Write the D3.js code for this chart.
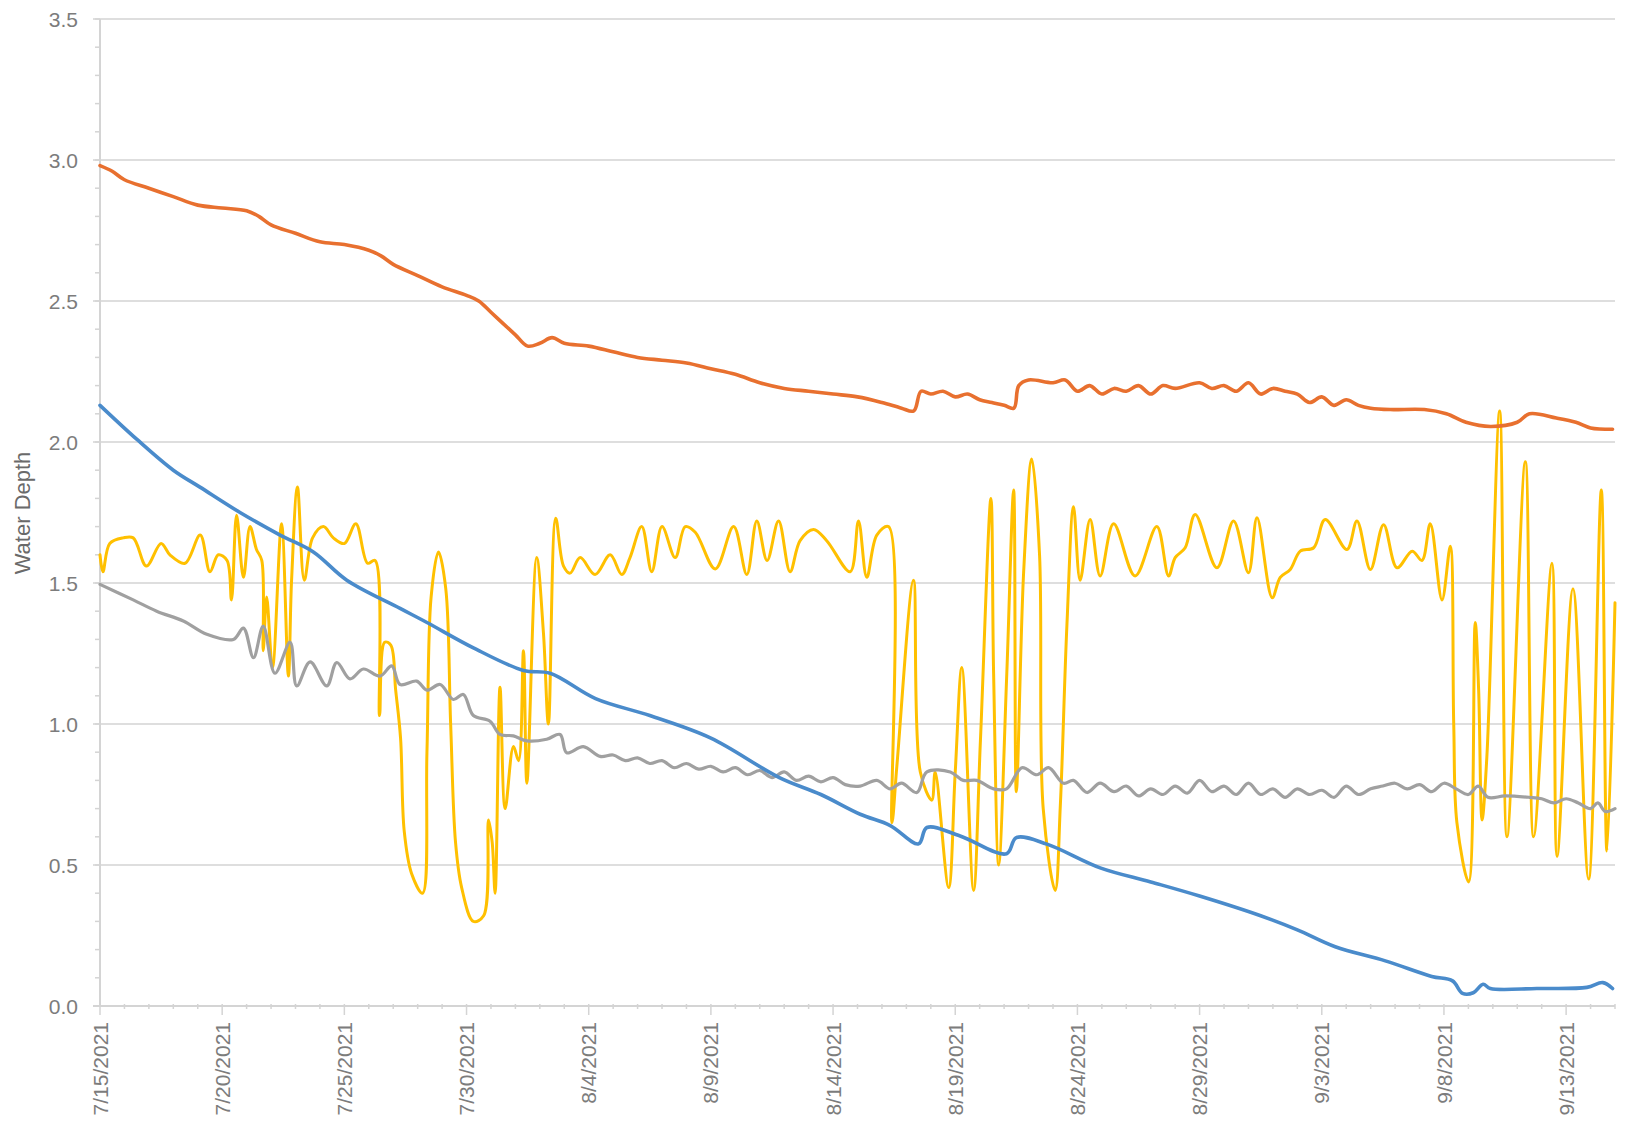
<!DOCTYPE html>
<html>
<head>
<meta charset="utf-8">
<title>Water Depth</title>
<script src="https://cdn.jsdelivr.net/npm/d3@7"></script>
<style>
    html, body { margin: 0; padding: 0; background: #fff; }
    text { font-family: "Liberation Sans", Arial, sans-serif; fill: #7c7c7c; }
</style>
</head>
<body>
<svg id="chart"></svg>
<script>
// start date, and series as [day offset from start, water depth]
var startDate = Date.UTC(2021, 6, 15);
var dayCount = 62;
var yTicks = [0, 0.5, 1.0, 1.5, 2.0, 2.5, 3.0, 3.5];
var xTickDays = [0, 5, 10, 15, 20, 25, 30, 35, 40, 45, 50, 55, 60];

var orangeSeries = [[0,2.98],[0.5,2.96],[1,2.93],[2,2.90],[3,2.87],[4,2.84],[5,2.83],[6,2.82],[6.5,2.80],
    [7,2.77],[8,2.74],[9,2.71],[10,2.70],[11,2.68],[11.5,2.66],[12,2.63],[13,2.59],[14,2.55],[15,2.52],
    [15.5,2.50],[16,2.46],[16.5,2.42],[17,2.38],[17.5,2.34],[18,2.35],[18.5,2.37],[19,2.35],[20,2.34],
    [21,2.32],[22,2.30],[23,2.29],[24,2.28],[25,2.26],[26,2.24],[27,2.21],[28,2.19],[29,2.18],[30,2.17],
    [31,2.16],[32,2.14],[32.8,2.12],[33.3,2.11],[33.6,2.18],[34,2.17],[34.5,2.18],[35,2.16],[35.5,2.17],
    [36,2.15],[36.5,2.14],[37,2.13],[37.4,2.12],[37.6,2.20],[38,2.22],[39,2.21],[39.5,2.22],[40,2.18],
    [40.5,2.20],[41,2.17],[41.5,2.19],[42,2.18],[42.5,2.20],[43,2.17],[43.5,2.20],[44,2.19],[45,2.21],
    [45.5,2.19],[46,2.20],[46.5,2.18],[47,2.21],[47.5,2.17],[48,2.19],[48.5,2.18],[49,2.17],[49.5,2.14],
    [50,2.16],[50.5,2.13],[51,2.15],[51.5,2.13],[52,2.12],[52.8,2.115],[54.2,2.115],[55.1,2.10],
    [55.9,2.07],[56.9,2.055],[58,2.07],[58.5,2.10],[59.6,2.085],[60.4,2.07],[61,2.05],[61.9,2.045]];

var blueSeries = [[0,2.13],[1.5,2.01],[3,1.90],[4.09,1.84],[5.73,1.75],[7.37,1.67],[8.73,1.61],[10.1,1.51],
    [12.28,1.41],[13.38,1.36],[15.28,1.27],[17.33,1.19],[18.42,1.18],[20.28,1.09],[22.5,1.03],[25,0.95],
    [27.8,0.81],[29.5,0.75],[31.11,0.68],[32.34,0.64],[33.5,0.575],[33.84,0.633],[35.2,0.603],[37.1,0.54],
    [37.5,0.597],[38.75,0.574],[40.93,0.49],[43,0.44],[45,0.39],[47.5,0.32],[49,0.27],[50.55,0.21],
    [52.6,0.16],[54.5,0.105],[55.35,0.089],[55.76,0.045],[56.2,0.047],[56.6,0.077],[56.9,0.062],
    [58.8,0.062],[60.85,0.066],[61.5,0.083],[61.9,0.062]];

var graySeries = [[0,1.495],[1.36,1.44],[2.32,1.40],[3.41,1.365],[4.37,1.318],[5.46,1.30],[5.87,1.34],
    [6.28,1.235],[6.68,1.347],[7.16,1.18],[7.78,1.29],[8.05,1.135],[8.6,1.22],[9.28,1.135],[9.69,1.218],
    [10.23,1.16],[10.78,1.195],[11.46,1.17],[11.94,1.206],[12.28,1.14],[12.96,1.152],[13.38,1.12],
    [13.92,1.14],[14.46,1.087],[14.87,1.105],[15.28,1.03],[15.96,1.01],[16.37,0.963],[16.92,0.958],
    [17.47,0.94],[18.28,0.946],[18.83,0.963],[19.1,0.898],[19.78,0.92],[20.47,0.885],[21,0.89],[21.5,0.87],
    [22,0.88],[22.5,0.86],[23,0.87],[23.5,0.845],[24,0.86],[24.5,0.84],[25,0.85],[25.5,0.83],[26,0.845],
    [26.5,0.82],[27,0.835],[27.5,0.81],[28,0.83],[28.5,0.80],[29,0.815],[29.5,0.795],[30,0.81],[30.5,0.785],
    [31.11,0.78],[31.79,0.80],[32.34,0.77],[32.8,0.79],[33.43,0.757],[33.84,0.83],[34.8,0.83],[35.33,0.80],
    [35.88,0.80],[36.57,0.77],[37.1,0.77],[37.73,0.845],[38.34,0.82],[38.82,0.845],[39.43,0.79],[39.84,0.80],
    [40.39,0.757],[40.93,0.79],[41.5,0.76],[42,0.78],[42.5,0.745],[43,0.77],[43.5,0.75],[44,0.78],
    [44.5,0.755],[45,0.80],[45.5,0.76],[46,0.78],[46.5,0.75],[47,0.79],[47.5,0.75],[48,0.77],[48.5,0.74],
    [49,0.77],[49.5,0.75],[50,0.765],[50.5,0.74],[51,0.78],[51.5,0.75],[52,0.77],[52.5,0.78],[53,0.79],
    [53.5,0.77],[54,0.785],[54.5,0.76],[55,0.79],[55.5,0.77],[56,0.75],[56.4,0.78],[56.8,0.74],[57.5,0.745],
    [58.5,0.74],[59,0.735],[59.5,0.72],[60,0.735],[60.5,0.72],[61,0.70],[61.3,0.72],[61.6,0.69],[62,0.70]];

var yellowSeries = [[0,1.60],[0.12,1.54],[0.4,1.64],[0.95,1.66],[1.36,1.66],[1.9,1.56],[2.5,1.64],[2.86,1.60],
    [3.48,1.57],[4.1,1.67],[4.5,1.54],[4.84,1.60],[5.2,1.58],[5.38,1.44],[5.59,1.74],[5.87,1.52],[6.14,1.70],
    [6.4,1.62],[6.62,1.58],[6.68,1.26],[6.82,1.45],[7.06,1.20],[7.43,1.71],[7.71,1.17],[7.84,1.51],[8.08,1.84],
    [8.36,1.51],[8.7,1.66],[9.14,1.70],[9.55,1.66],[10.0,1.64],[10.47,1.71],[10.95,1.57],[11.26,1.58],
    [11.44,1.03],[11.65,1.29],[11.9,1.28],[12.1,1.12],[12.3,0.95],[12.45,0.62],[12.75,0.47],[13.2,0.40],
    [13.38,0.90],[13.55,1.45],[13.85,1.61],[14.15,1.48],[14.35,1.00],[14.55,0.58],[14.8,0.42],[15.28,0.30],
    [15.7,0.32],[15.9,0.66],[16.05,0.58],[16.17,0.40],[16.37,1.13],[16.58,0.70],[16.92,0.92],[17.13,0.87],
    [17.33,1.26],[17.47,0.79],[17.87,1.59],[18.15,1.32],[18.35,1.00],[18.65,1.73],[18.97,1.56],[19.24,1.535],
    [19.65,1.59],[20.26,1.53],[20.88,1.60],[21.35,1.53],[21.69,1.59],[22.17,1.70],[22.58,1.54],[23.0,1.70],
    [23.54,1.59],[23.95,1.70],[24.36,1.68],[25.18,1.55],[25.93,1.70],[26.47,1.53],[26.88,1.72],[27.3,1.58],
    [27.77,1.72],[28.24,1.54],[28.65,1.65],[29.2,1.69],[29.74,1.65],[30.7,1.54],[31.04,1.72],[31.38,1.52],
    [31.79,1.67],[32.27,1.70],[32.41,0.65],[32.61,0.85],[33.29,1.51],[33.57,0.83],[34.04,0.73],[34.18,0.83],
    [34.73,0.42],[35.0,0.83],[35.27,1.20],[35.75,0.41],[36.03,0.94],[36.46,1.80],[36.57,1.18],[36.78,0.50],
    [37.11,1.18],[37.39,1.83],[37.5,0.76],[37.8,1.54],[38.13,1.94],[38.45,1.60],[38.6,0.70],[39.09,0.41],
    [39.3,0.71],[39.57,1.35],[39.84,1.77],[40.11,1.51],[40.52,1.725],[40.93,1.525],[41.48,1.71],[42.36,1.525],
    [43.25,1.70],[43.73,1.525],[44.0,1.59],[44.41,1.625],[44.82,1.743],[45.71,1.554],[46.39,1.72],[47.0,1.536],
    [47.35,1.731],[47.97,1.448],[48.3,1.52],[48.71,1.548],[49.12,1.613],[49.67,1.625],[50.14,1.725],
    [51.03,1.619],[51.44,1.72],[51.99,1.548],[52.53,1.707],[53.08,1.554],[53.7,1.613],[54.1,1.58],[54.44,1.71],
    [54.92,1.44],[55.26,1.63],[55.4,1.00],[55.53,0.65],[56.01,0.44],[56.28,1.36],[56.42,1.12],[56.56,0.66],
    [56.76,0.89],[57.28,2.11],[57.58,0.60],[58.33,1.93],[58.67,0.60],[59.42,1.57],[59.63,0.53],[60.28,1.48],
    [60.92,0.45],[61.44,1.83],[61.67,0.55],[62.0,1.43]];
</script>
<script>
    var width = 1626, height = 1124;
    var margin = {left: 100, right: 11, top: 19, bottom: 118};
    var dayMs = 864e5;

    function toDate(d) { return new Date(startDate + d * dayMs); }

    var svg = d3.select("#chart")
        .attr("width", width)
        .attr("height", height);

    var x = d3.scaleUtc()
        .domain([toDate(0), toDate(dayCount)])
        .range([margin.left, width - margin.right]);

    var y = d3.scaleLinear()
        .domain([0, 3.5])
        .range([height - margin.bottom, margin.top]);

    // horizontal grid lines
    svg.append("g")
        .selectAll("line")
        .data(yTicks.filter(d => d > 0))
        .join("line")
            .attr("x1", margin.left - 7)
            .attr("x2", width - margin.right)
            .attr("y1", d => y(d))
            .attr("y2", d => y(d))
            .attr("stroke", "#dedede")
            .attr("stroke-width", 2);

    // y axis line with minor ticks
    var yAxis = svg.append("g").attr("transform", `translate(${margin.left},0)`);
    yAxis.append("line")
        .attr("y1", y(0)).attr("y2", y(3.5))
        .attr("stroke", "#d4d4d4").attr("stroke-width", 2);
    yAxis.selectAll("line.minor")
        .data(d3.range(0, 36).map(d => d / 10))
        .join("line")
            .attr("class", "minor")
            .attr("x1", -5).attr("x2", 0)
            .attr("y1", d => y(d)).attr("y2", d => y(d))
            .attr("stroke", "#d4d4d4").attr("stroke-width", 1.5);
    yAxis.selectAll("text")
        .data(yTicks)
        .join("text")
            .attr("x", -22)
            .attr("y", d => y(d))
            .attr("dy", "0.36em")
            .attr("text-anchor", "end")
            .style("font-size", "21px")
            .text(d3.format(".1f"));

    // x axis line with day ticks
    var xAxis = svg.append("g").attr("transform", `translate(0,${y(0)})`);
    xAxis.append("line")
        .attr("x1", x(toDate(0)) - 7).attr("x2", x(toDate(dayCount)))
        .attr("stroke", "#d4d4d4").attr("stroke-width", 2);
    xAxis.selectAll("line.minor")
        .data(d3.range(0, dayCount + 1))
        .join("line")
            .attr("class", "minor")
            .attr("x1", d => x(toDate(d))).attr("x2", d => x(toDate(d)))
            .attr("y1", -2).attr("y2", d => d % 5 === 0 ? 9 : 3)
            .attr("stroke", "#d4d4d4").attr("stroke-width", 1.5);

    var fmt = d3.utcFormat("%-m/%-d/%Y");
    xAxis.selectAll("text")
        .data(xTickDays)
        .join("text")
            .attr("transform", d => `translate(${x(toDate(d))},16) rotate(-90)`)
            .attr("dy", "0.36em")
            .attr("text-anchor", "end")
            .style("font-size", "21px")
            .text(d => fmt(toDate(d)));

    // axis title
    svg.append("text")
        .attr("transform", `translate(22,513) rotate(-90)`)
        .attr("dy", "0.36em")
        .attr("text-anchor", "middle")
        .style("font-size", "22px")
        .style("fill", "#6a6a6a")
        .text("Water Depth");

    var line = d3.line()
        .x(d => x(toDate(d[0])))
        .y(d => y(d[1]))
        .curve(d3.curveCatmullRom.alpha(0.5));

    var series = [
        {data: yellowSeries, color: "#FFC000", w: 3},
        {data: graySeries, color: "#A0A0A0", w: 3.2},
        {data: blueSeries, color: "#4A8BCB", w: 3.6},
        {data: orangeSeries, color: "#E8702F", w: 3.6}
    ];

    svg.append("g")
        .selectAll("path")
        .data(series)
        .join("path")
            .attr("d", d => line(d.data))
            .attr("fill", "none")
            .attr("stroke", d => d.color)
            .attr("stroke-width", d => d.w)
            .attr("stroke-linejoin", "round")
            .attr("stroke-linecap", "round");
</script>
</body>
</html>
